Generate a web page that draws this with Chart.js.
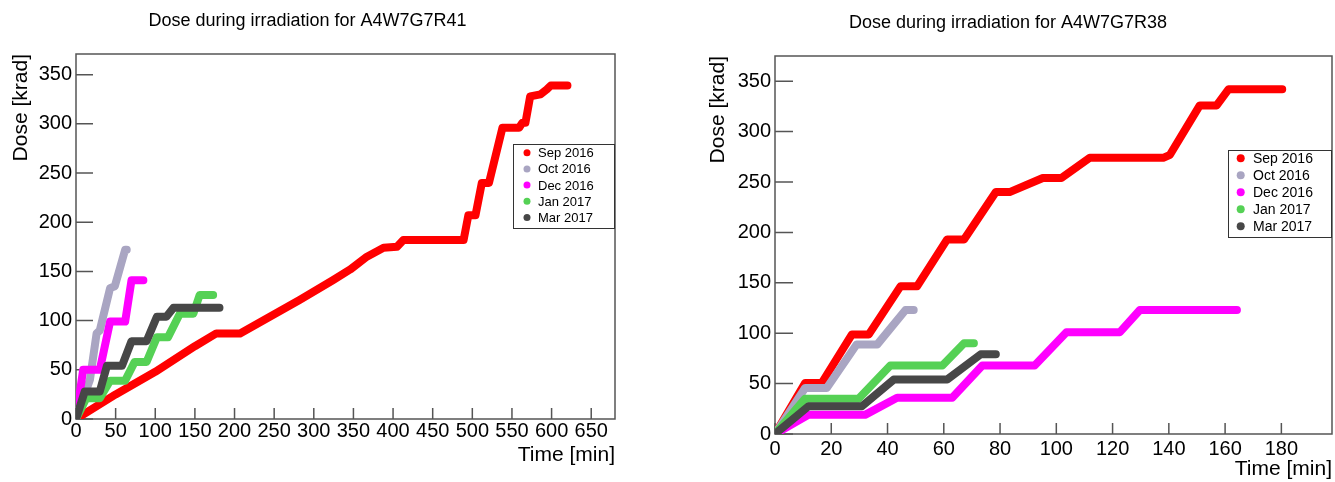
<!DOCTYPE html>
<html>
<head>
<meta charset="utf-8">
<script src="https://cdn.jsdelivr.net/npm/chart.js@4.4.0/dist/chart.umd.min.js"></script>
<style>
  html, body { margin: 0; padding: 0; background: #fff; }
  #left { position: absolute; left: 0; top: 0; }
  #right { position: absolute; left: 665px; top: 0; }
</style>
</head>
<body>
<canvas id="left" width="665" height="482"></canvas>
<canvas id="right" width="670" height="482"></canvas>
<script>
// series labels, same for both modules
const campaigns = ['Sep 2016', 'Oct 2016', 'Dec 2016', 'Jan 2017', 'Mar 2017'];

// module A4W7G7R41 (time in min, dose in krad)
const r41SepTime = [0, 50, 100, 150, 177, 207, 282, 324, 346, 367, 388, 405, 413, 489, 495, 504, 512, 521, 538, 559, 563, 567, 573, 586, 594, 599, 620];
const r41SepDose = [0, 25, 48, 74, 87, 87, 121, 141, 152, 165, 174, 175, 182, 182, 207, 207, 240, 240, 296, 296, 301, 301, 328, 330, 335, 339, 339];
const r41OctTime = [0, 17.6, 26, 30, 43, 49, 62, 64];
const r41OctDose = [0, 40, 87, 90, 133, 135, 172, 172];
const r41DecTime = [0, 9, 30, 43, 62, 70, 85];
const r41DecDose = [0, 50, 50, 99, 99, 141, 141];
const r41JanTime = [0, 13, 30, 43, 62, 74, 89, 102, 116, 131, 148, 156, 173];
const r41JanDose = [0, 21, 21, 39, 39, 58, 58, 83, 83, 107, 107, 126, 126];
const r41MarTime = [0, 11, 30, 39, 58, 70, 89, 102, 114, 123, 181];
const r41MarDose = [0, 28, 28, 54, 54, 79, 79, 104, 104, 113, 113];

// module A4W7G7R38
const r38SepTime = [0, 10.7, 16.6, 27.3, 33.3, 44.6, 50.5, 61.2, 67.2, 78.5, 83.4, 95.2, 101.8, 111.9, 138, 140.4, 151, 157, 161.2, 180.3];
const r38SepDose = [0, 50.6, 50.6, 98.6, 98.6, 146.5, 146.5, 193, 193, 240, 240, 254, 254, 274, 274, 277, 326, 326, 342, 342];
const r38OctTime = [0, 10.7, 18.4, 29, 36.3, 46.4, 49.3];
const r38OctDose = [0, 45.6, 45.6, 88.7, 88.7, 123, 123];
const r38DecTime = [0, 11.9, 32, 43.4, 63, 73.7, 92.3, 103.6, 122.6, 129.7, 164.2];
const r38DecDose = [0, 19, 19, 36, 36, 68, 68, 101, 101, 123, 123];
const r38JanTime = [0, 10.7, 29.7, 41, 59.5, 67.2, 70.7];
const r38JanDose = [0, 35, 35, 68, 68, 90, 90];
const r38MarTime = [0, 11.9, 30.9, 42.2, 61.2, 73.1, 78.5];
const r38MarDose = [0, 27.5, 27.5, 54, 54, 79, 79];

const lineColors = ['#ff0000', '#a9a5c2', '#ff00ff', '#55d155', '#474747'];

Chart.defaults.font.family = "'Liberation Sans', Arial, sans-serif";
Chart.defaults.color = '#000';

function toPoints(times, doses) {
  return times.map((t, i) => ({ x: t, y: doses[i] }));
}

function makeDatasets(series) {
  return series.map((s, i) => ({
    label: campaigns[i],
    data: toPoints(s[0], s[1]),
    borderColor: lineColors[i],
    backgroundColor: lineColors[i],
    borderWidth: 8,
    borderCapStyle: 'round',
    borderJoinStyle: 'round',
    pointRadius: 0,
    tension: 0,
    fill: false,
    order: series.length - i
  }));
}

// ROOT style frame with inward tick marks
const frameTicks = {
  id: 'frameTicks',
  beforeDatasetsDraw(chart, args, opts) {
    const { ctx, chartArea: a } = chart;
    const x = chart.scales.x, y = chart.scales.y;
    ctx.save();
    ctx.strokeStyle = '#555';
    ctx.lineWidth = 1.5;
    ctx.beginPath();
    x.ticks.forEach(t => {
      const px = x.getPixelForValue(t.value);
      ctx.moveTo(px, a.bottom);
      ctx.lineTo(px, a.bottom - opts.xLen);
    });
    y.ticks.forEach(t => {
      const py = y.getPixelForValue(t.value);
      ctx.moveTo(a.left, py);
      ctx.lineTo(a.left + opts.yLen, py);
    });
    ctx.stroke();
    ctx.strokeRect(a.left, a.top, a.right - a.left, a.bottom - a.top);
    ctx.restore();
  }
};

// legend box inside the frame, right side
const boxLegend = {
  id: 'boxLegend',
  afterDraw(chart, args, opts) {
    const { ctx, chartArea: a } = chart;
    const left = a.right - opts.width;
    const top = a.top + opts.top;
    ctx.save();
    ctx.fillStyle = '#fff';
    ctx.fillRect(left, top, opts.width, opts.height);
    ctx.strokeStyle = '#333';
    ctx.lineWidth = 1;
    ctx.strokeRect(left + 0.5, top + 0.5, opts.width - 1, opts.height);
    ctx.font = opts.fontSize + "px 'Liberation Sans', Arial, sans-serif";
    ctx.textBaseline = 'middle';
    chart.data.datasets.forEach((ds, i) => {
      const cy = top + opts.first + i * opts.step;
      ctx.fillStyle = ds.borderColor;
      ctx.beginPath();
      ctx.arc(left + opts.dotX, cy, opts.dotR, 0, Math.PI * 2);
      ctx.fill();
      ctx.fillStyle = '#000';
      ctx.fillText(ds.label, left + opts.textX, cy + 1);
    });
    ctx.restore();
  }
};

function makeChart(id, cfg) {
  return new Chart(document.getElementById(id), {
    type: 'line',
    data: { datasets: makeDatasets(cfg.series) },
    plugins: [frameTicks, boxLegend],
    options: {
      responsive: false,
      animation: false,
      layout: { padding: cfg.padding },
      scales: {
        x: {
          type: 'linear',
          min: 0,
          max: cfg.xMax,
          grid: { display: false, drawTicks: false },
          border: { display: false },
          ticks: { stepSize: cfg.xStep, includeBounds: false, padding: cfg.xTickPad, font: { size: 20 } },
          title: {
            display: true, text: 'Time [min]', align: 'end',
            font: { size: 21 }, padding: { top: 0, bottom: cfg.xTitlePad }
          },
          afterFit(scale) { scale.height = cfg.xHeight; }
        },
        y: {
          type: 'linear',
          min: 0,
          max: cfg.yMax,
          grid: { display: false, drawTicks: false },
          border: { display: false },
          ticks: { stepSize: 50, includeBounds: false, padding: 4, font: { size: 20 } },
          title: {
            display: true, text: 'Dose [krad]', align: 'end',
            font: { size: 21 }, padding: { top: cfg.yTitlePad, bottom: 0 }
          },
          afterFit(scale) { scale.width = cfg.yWidth; }
        }
      },
      plugins: {
        legend: { display: false },
        tooltip: { enabled: false },
        title: {
          display: true,
          text: cfg.title,
          font: { size: 18, weight: 'normal' },
          padding: { top: cfg.titleTop, bottom: cfg.titleBottom }
        },
        frameTicks: { xLen: 11, yLen: cfg.yTickLen },
        boxLegend: cfg.legend
      }
    }
  });
}

makeChart('left', {
  title: 'Dose during irradiation for A4W7G7R41',
  series: [
    [r41SepTime, r41SepDose],
    [r41OctTime, r41OctDose],
    [r41DecTime, r41DecDose],
    [r41JanTime, r41JanDose],
    [r41MarTime, r41MarDose]
  ],
  xMax: 680, xStep: 50, yMax: 371,
  padding: { left: 0, right: 50, top: 0, bottom: 0 },
  yWidth: 76, xHeight: 63, xTickPad: 0, xTitlePad: 14, yTitlePad: 9,
  titleTop: 10, titleBottom: 22.4, yTickLen: 17,
  legend: { width: 102, top: 90, height: 84, first: 8.7, step: 16.2, dotX: 14, dotR: 3.5, textX: 25, fontSize: 13 }
});

makeChart('right', {
  title: 'Dose during irradiation for A4W7G7R38',
  series: [
    [r38SepTime, r38SepDose],
    [r38OctTime, r38OctDose],
    [r38DecTime, r38DecDose],
    [r38JanTime, r38JanDose],
    [r38MarTime, r38MarDose]
  ],
  xMax: 198, xStep: 20, yMax: 375,
  padding: { left: 19, right: 3, top: 0, bottom: 0 },
  yWidth: 91, xHeight: 48, xTickPad: 3, xTitlePad: 0, yTitlePad: 22,
  titleTop: 12, titleBottom: 22.4, yTickLen: 18,
  legend: { width: 104, top: 94, height: 87, first: 8.3, step: 17, dotX: 12.7, dotR: 4, textX: 25, fontSize: 14 }
});
</script>
</body>
</html>
